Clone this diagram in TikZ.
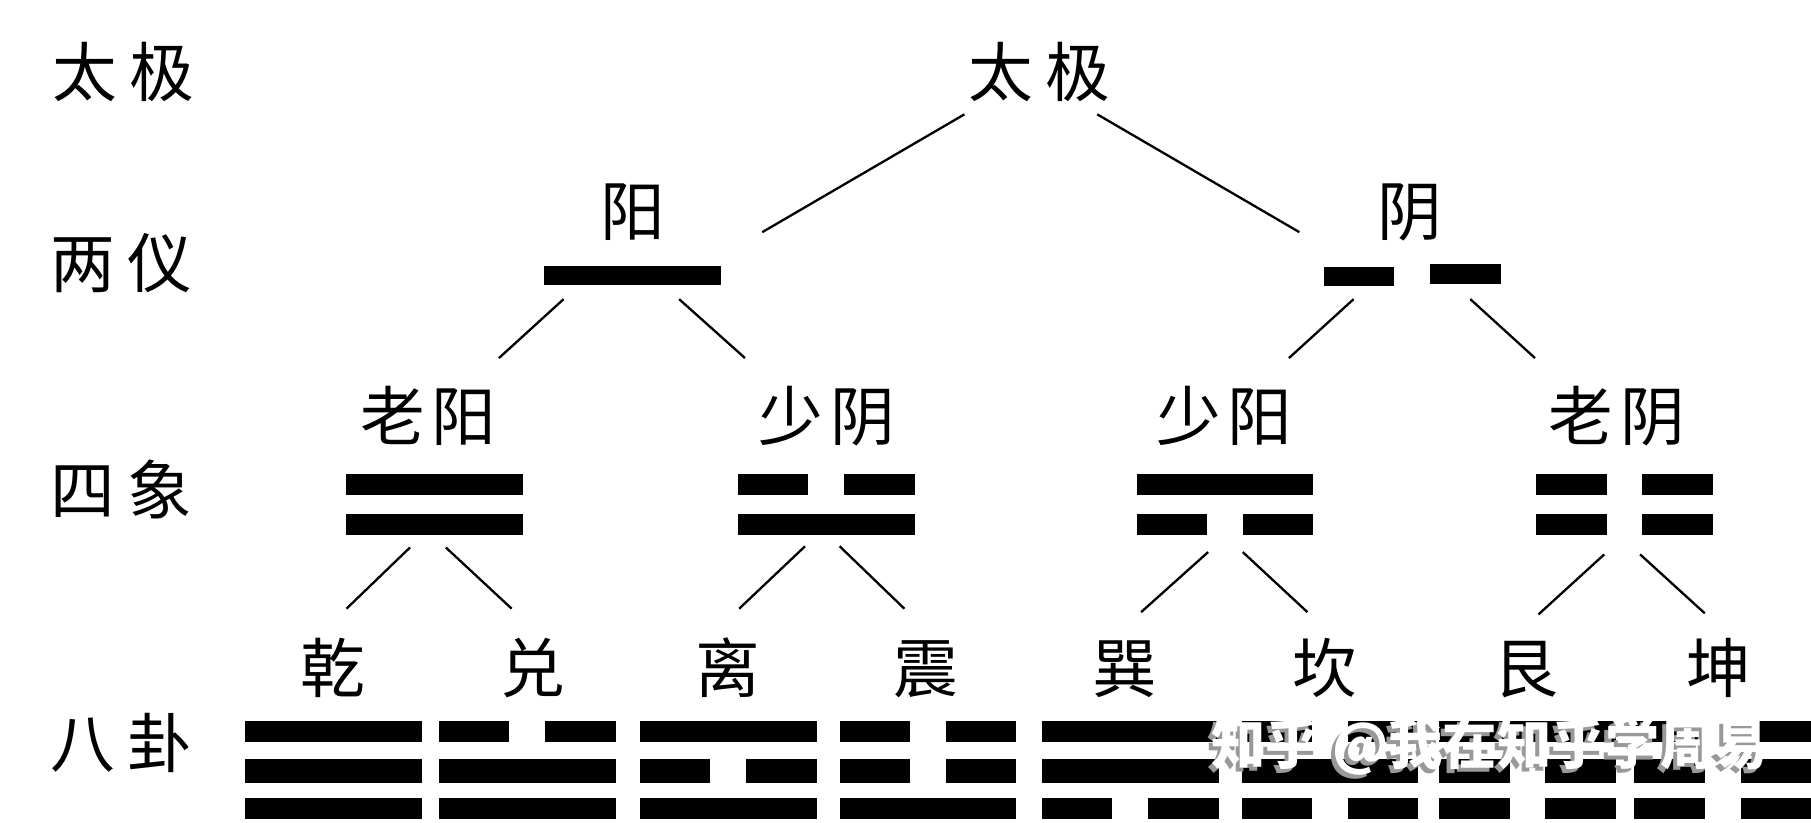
\documentclass[tikz,border=0pt]{standalone}
\usepackage{fontspec}
\newfontfamily\cjk{Noto Sans CJK SC}
\newcommand\yaoyang[4]{\node[blk, minimum width=153pt, minimum height=#4pt] (#1) at (#2+76.5, #3+#4/2) {};}
\newcommand\yaoyin[4]{%
  \node[blk, minimum width=61pt, minimum height=#4pt] (#1a) at (#2+30.5, #3+#4/2) {};%
  \node[blk, minimum width=61pt, minimum height=#4pt] (#1b) at (#2+122.5, #3+#4/2) {};}
\begin{document}
\begin{tikzpicture}[x=1pt,y=-1pt,
  lbl/.style={font=\cjk\fontsize{56}{56}\selectfont, inner sep=0, text height=46.5pt, text depth=4pt, anchor=center},
  blk/.style={fill=black, draw=none, inner sep=0, outer sep=0},
  conn/.style={line width=2pt},
  wm/.style={font=\cjk\bfseries\fontsize{47}{47}\selectfont, inner sep=0, anchor=center}
]
\useasboundingbox[fill=white] (0,0) rectangle (1568,712);

% left column labels
\node[lbl] (r1) at (107,62) {太\hspace{11pt}极};
\node[lbl] (r2) at (105,228) {两\hspace{11pt}仪};
\node[lbl] (r3) at (105,424) {四\hspace{11pt}象};
\node[lbl] (r4) at (105,643) {八\hspace{11pt}卦};

% level 1
\node[lbl] (taiji) at (900,62) {太\hspace{11pt}极};

% level 2
\node[lbl] (yang) at (548,183) {阳};
\node[lbl] (yin) at (1221,183) {阴};
\yaoyang{yangbar}{471}{230}{17}
\node[blk, minimum width=61pt, minimum height=17pt] (yinbara) at (1176.5,239.5) {};
\node[blk, minimum width=62pt, minimum height=17pt] (yinbarb) at (1269,237.5) {};

% level 3 labels
\node[lbl] (laoyang) at (371,360) {老\hspace{6pt}阳};
\node[lbl] (shaoyin) at (716,360) {少\hspace{6pt}阴};
\node[lbl] (shaoyang) at (1060,360) {少\hspace{6pt}阳};
\node[lbl] (laoyin) at (1400,360) {老\hspace{6pt}阴};

% level 3 bars
\yaoyang{lyang1}{300}{410}{19}
\yaoyang{lyang2}{300}{445}{18}
\yaoyin{syin1}{639}{410}{19}
\yaoyang{syin2}{639}{445}{18}
\yaoyang{syang1}{984}{410}{19}
\yaoyin{syang2}{984}{445}{18}
\yaoyin{lyin1}{1330}{410}{19}
\yaoyin{lyin2}{1330}{445}{18}

% level 4 labels
\node[lbl] (qian) at (288,578) {乾};
\node[lbl] (dui) at (461,578) {兑};
\node[lbl] (li) at (630,578) {离};
\node[lbl] (zhen) at (802,578) {震};
\node[lbl] (xun) at (974,578) {巽};
\node[lbl] (kan) at (1147,578) {坎};
\node[lbl] (gen) at (1321,578) {艮};
\node[lbl] (kun) at (1488,578) {坤};

% level 4 bars (top to bottom)
\yaoyang{qian1}{212}{624}{18}
\yaoyang{qian2}{212}{657}{21}
\yaoyang{qian3}{212}{691}{18}
\yaoyin{dui1}{380}{624}{18}
\yaoyang{dui2}{380}{657}{21}
\yaoyang{dui3}{380}{691}{18}
\yaoyang{li1}{554}{624}{18}
\yaoyin{li2}{554}{657}{21}
\yaoyang{li3}{554}{691}{18}
\yaoyin{zhen1}{727}{624}{18}
\yaoyin{zhen2}{727}{657}{21}
\yaoyang{zhen3}{727}{691}{18}
\yaoyang{xun1}{902}{624}{18}
\yaoyang{xun2}{902}{657}{21}
\yaoyin{xun3}{902}{691}{18}
\yaoyin{kan1}{1075}{624}{18}
\yaoyang{kan2}{1075}{657}{21}
\yaoyin{kan3}{1075}{691}{18}
\yaoyang{gen1}{1246}{624}{18}
\yaoyin{gen2}{1246}{657}{21}
\yaoyin{gen3}{1246}{691}{18}
\yaoyin{kun1}{1415}{624}{18}
\yaoyin{kun2}{1415}{657}{21}
\yaoyin{kun3}{1415}{691}{18}

% connector end points
\coordinate (a1) at (835,99);  \coordinate (a2) at (660,201);
\coordinate (b1) at (950,99);  \coordinate (b2) at (1125,201);
\coordinate (c1) at (488,259); \coordinate (c2) at (432,310);
\coordinate (d1) at (588,259); \coordinate (d2) at (645,310);
\coordinate (e1) at (1172,259); \coordinate (e2) at (1116,310);
\coordinate (f1) at (1273,259); \coordinate (f2) at (1329,310);
\coordinate (g1) at (355,474); \coordinate (g2) at (300,527);
\coordinate (h1) at (386,474); \coordinate (h2) at (443,527);
\coordinate (i1) at (697,473); \coordinate (i2) at (640,527);
\coordinate (j1) at (727,473); \coordinate (j2) at (783,527);
\coordinate (k1) at (1046,478); \coordinate (k2) at (988,530);
\coordinate (l1) at (1076,478); \coordinate (l2) at (1132,530);
\coordinate (m1) at (1389,480); \coordinate (m2) at (1332,532);
\coordinate (n1) at (1420,480); \coordinate (n2) at (1476,531);

\foreach \s in {a,b,c,d,e,f,g,h,i,j,k,l,m,n}
  \draw[conn] (\s1) -- (\s2);

% watermark
\node[wm, text=black!40] (wmshadow) at (1286.5,649.5) {知乎 @我在知乎学周易};
\node[wm, text=white] (wmtext) at (1290,646) {知乎 @我在知乎学周易};
\end{tikzpicture}
\end{document}
